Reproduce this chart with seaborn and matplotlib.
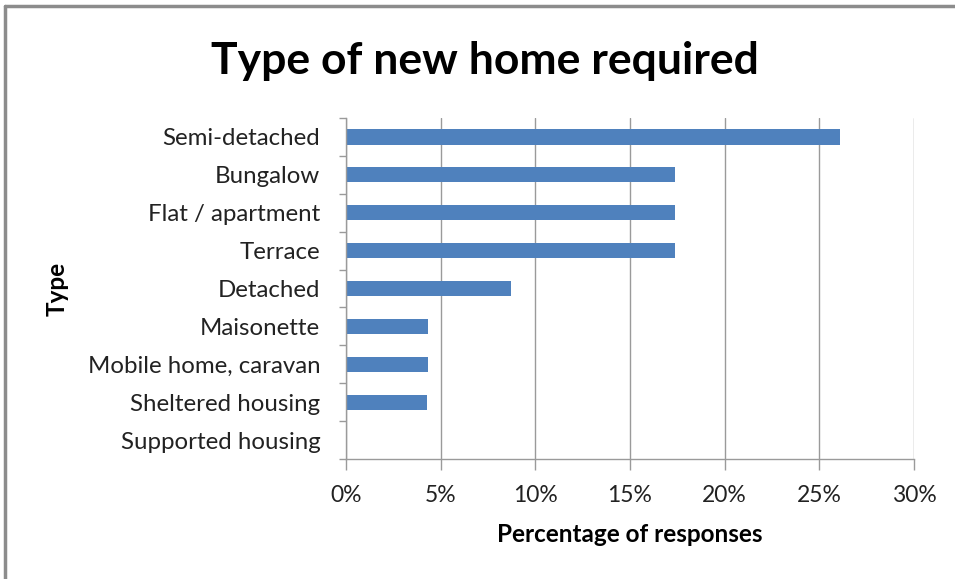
import matplotlib
matplotlib.use("Agg")
import matplotlib.pyplot as plt
import seaborn as sns
import pandas as pd
import numpy as np
from matplotlib.lines import Line2D
from matplotlib.ticker import FixedLocator

categories = ["Semi-detached", "Bungalow", "Flat / apartment", "Terrace", "Detached",
              "Maisonette", "Mobile home, caravan", "Sheltered housing", "Supported housing"]
values = [26.09, 17.39, 17.39, 17.39, 8.70, 4.35, 4.35, 4.30, 0.0]
x_ticks = [0, 5, 10, 15, 20, 25, 30]
x_tick_labels = ["0%", "5%", "10%", "15%", "20%", "25%", "30%"]

sns.set_theme(style="white")
plt.rcParams['font.family'] = ['Lato', 'DejaVu Sans']

W, H = 955, 579
fig = plt.figure(figsize=(W/100, H/100), dpi=100)
ax = fig.add_axes([346/W, 1-459/H, 568/W, 341/H])

df = pd.DataFrame({"Type": categories, "Pct": values})
sns.barplot(data=df, x="Pct", y="Type", orient="h", color="#4F81BD",
            width=0.4, saturation=1, ax=ax, edgecolor="none")

ax.set_xlim(0, 30)
ax.set_ylim(len(categories)-0.5, -0.5)
ax.set_xticks(x_ticks)
ax.set_xticklabels(x_tick_labels, fontsize=16.5, color="#222222")
ax.set_yticks(range(len(categories)))
ax.set_yticklabels(categories, fontsize=17.3, color="#222222")
ax.yaxis.set_minor_locator(FixedLocator(np.arange(-0.5, len(categories), 1)))
ax.tick_params(axis='y', which='major', length=0, pad=18.5)
ax.tick_params(axis='y', which='minor', length=5, color="#9a9a9a", width=1, left=True)
ax.tick_params(axis='x', which='major', length=8, color="#9a9a9a", width=1, bottom=True, pad=11)

ax.grid(axis='x', color="#9a9a9a", linewidth=1)
ax.set_axisbelow(True)
for s in ["top", "right"]:
    ax.spines[s].set_visible(False)
for s in ["left", "bottom"]:
    ax.spines[s].set_color("#9a9a9a")
    ax.spines[s].set_linewidth(1)

ax.set_xlabel("Percentage of responses", fontsize=17.5, fontweight="bold", labelpad=14, color="black")
ax.set_ylabel("Type", fontsize=17.5, fontweight="bold", color="black")
ax.yaxis.set_label_coords((57-346)/568, 0.5)
ax.yaxis.label.set_va("center")
ax.xaxis.set_label_coords(0.5, (459-535)/341)
ax.xaxis.label.set_va("center")

fig.text(485/W, 1-61/H, "Type of new home required", ha="center", va="center",
         fontsize=32, fontweight="bold", color="black")

fig.add_artist(Line2D([5/W, 5/W], [0, 1-6/H], color="#8c8c8c", linewidth=2.5, transform=fig.transFigure))
fig.add_artist(Line2D([5/W, 1], [1-6/H, 1-6/H], color="#8c8c8c", linewidth=2.5, transform=fig.transFigure))

fig.savefig("out.png", dpi=100, facecolor="white")
